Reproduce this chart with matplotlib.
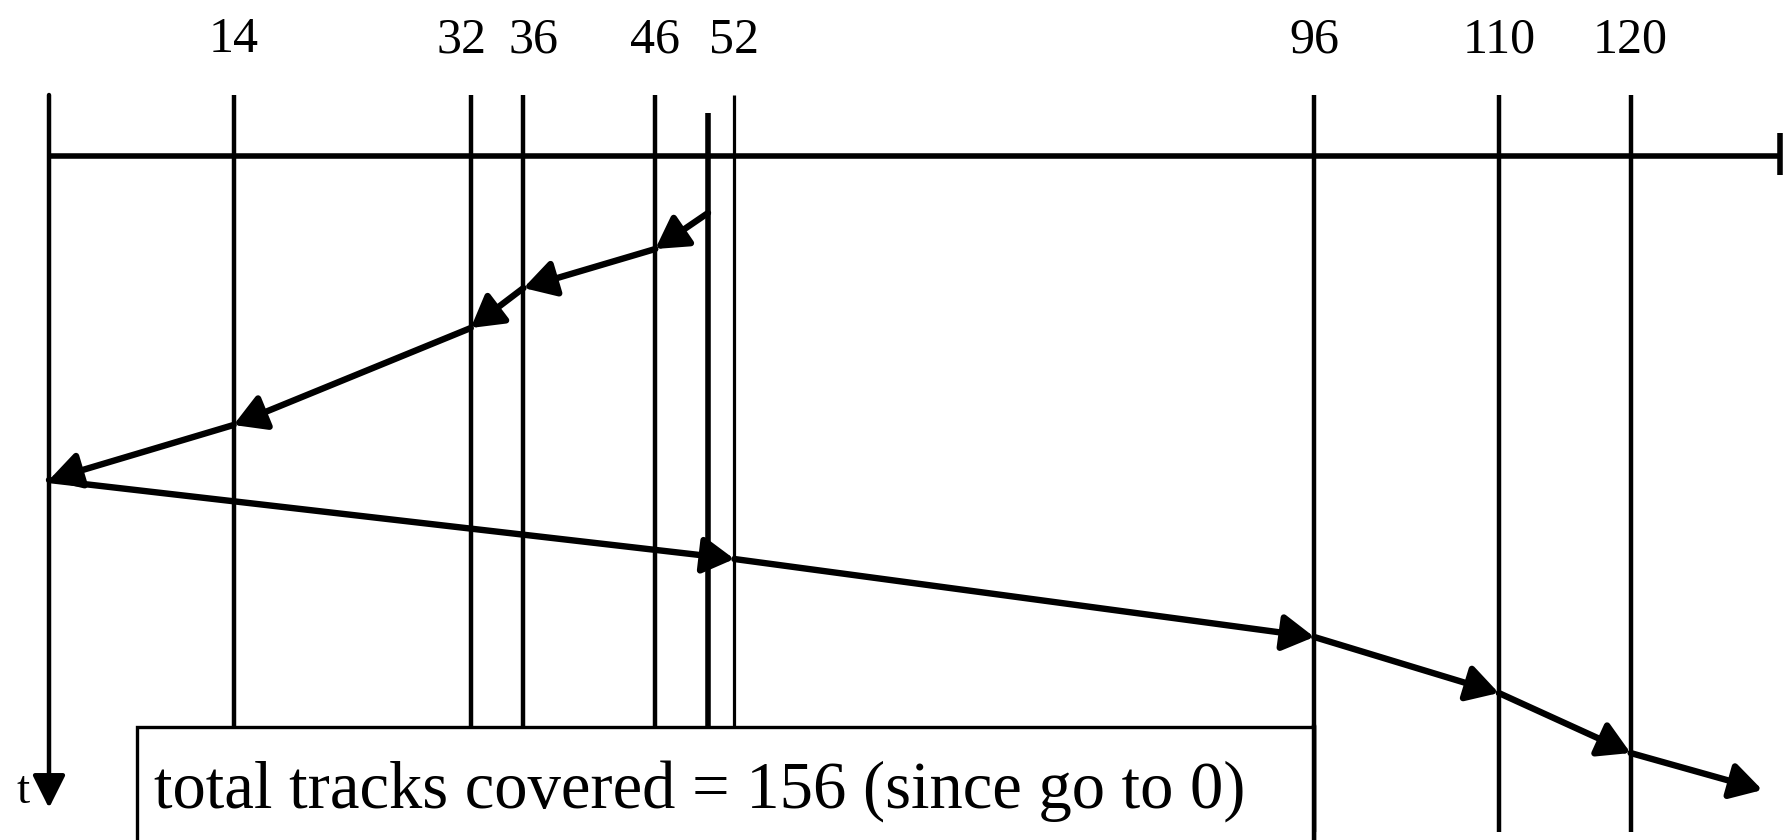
import matplotlib
matplotlib.use("Agg")
import matplotlib.pyplot as plt
from matplotlib.patches import Rectangle

# disk requests (track numbers) and head start
requests = [14, 32, 36, 46, 52, 96, 110, 120]
start_track = 50
disk_end = 131.3

# SCAN order: head moves down to 0, then sweeps up
order = [50, 46, 36, 32, 14, 0, 52, 96, 110, 120]
times = [5.7, 9.3, 13.2, 17.2, 26.9, 32.4, 40.3, 48.1, 53.7, 59.7]
tail = (130.0, 63.4)   # where the last arrow points after 120

caption = "total tracks covered = 156 (since go to 0)"

plt.rcParams['font.family'] = ['Liberation Serif', 'DejaVu Serif']

fig = plt.figure(figsize=(17.89, 8.4), dpi=100)
ax = fig.add_axes([0, 0, 1, 1])
ax.set_xlim(-3.718, 132.02)
ax.set_ylim(68.4, -15.6)
ax.axis('off')

# horizontal track axis
ax.plot([0, disk_end], [0, 0], color='black', lw=4, solid_capstyle='butt')
ax.plot([disk_end, disk_end], [-2.3, 1.9], color='black', lw=4, solid_capstyle='butt')

# request lines with labels (32 and 36 sit close, push their labels apart)
nudge = {32: -7, 36: 7}
for r in requests:
    lw = 2.3 if r == 52 else 3.2
    ax.plot([r, r], [-6.1, 67.6], color='black', lw=lw, solid_capstyle='butt')
    ax.annotate(str(r), xy=(r, -11.6), xytext=(nudge.get(r, 0), 0),
                textcoords='offset points', ha='center', va='center',
                fontsize=36)

# head start line
ax.plot([start_track, start_track], [-4.3, 67.6], color='black', lw=4,
        solid_capstyle='butt')

# time axis at track 0
ax.annotate('', xy=(0, 65.2), xytext=(0, -6.1),
            arrowprops=dict(arrowstyle='-|>,head_length=20,head_width=10',
                            mutation_scale=1, lw=3.2, color='black',
                            shrinkA=0, shrinkB=0))
ax.text(-2.0, 63.6, 't', ha='center', va='center', fontsize=34)

# head movement arrows
pts = list(zip(order, times)) + [tail]
for (x0, y0), (x1, y1) in zip(pts[:-1], pts[1:]):
    ax.annotate('', xy=(x1, y1), xytext=(x0, y0),
                arrowprops=dict(arrowstyle='-|>,head_length=19,head_width=11',
                                mutation_scale=1, lw=4.6, color='black',
                                shrinkA=0, shrinkB=0))

# caption box
box = Rectangle((6.7, 57.1), 96 - 6.7, 20, facecolor='white',
                edgecolor='black', lw=2.4, zorder=5)
ax.add_patch(box)
ax.plot([96, 96], [57.1, 68.4], color='black', lw=3.2, zorder=6)
ax.text(8.0, 65.2, caption, ha='left', va='baseline', fontsize=48, zorder=7)

fig.savefig('out.png', dpi=100)
